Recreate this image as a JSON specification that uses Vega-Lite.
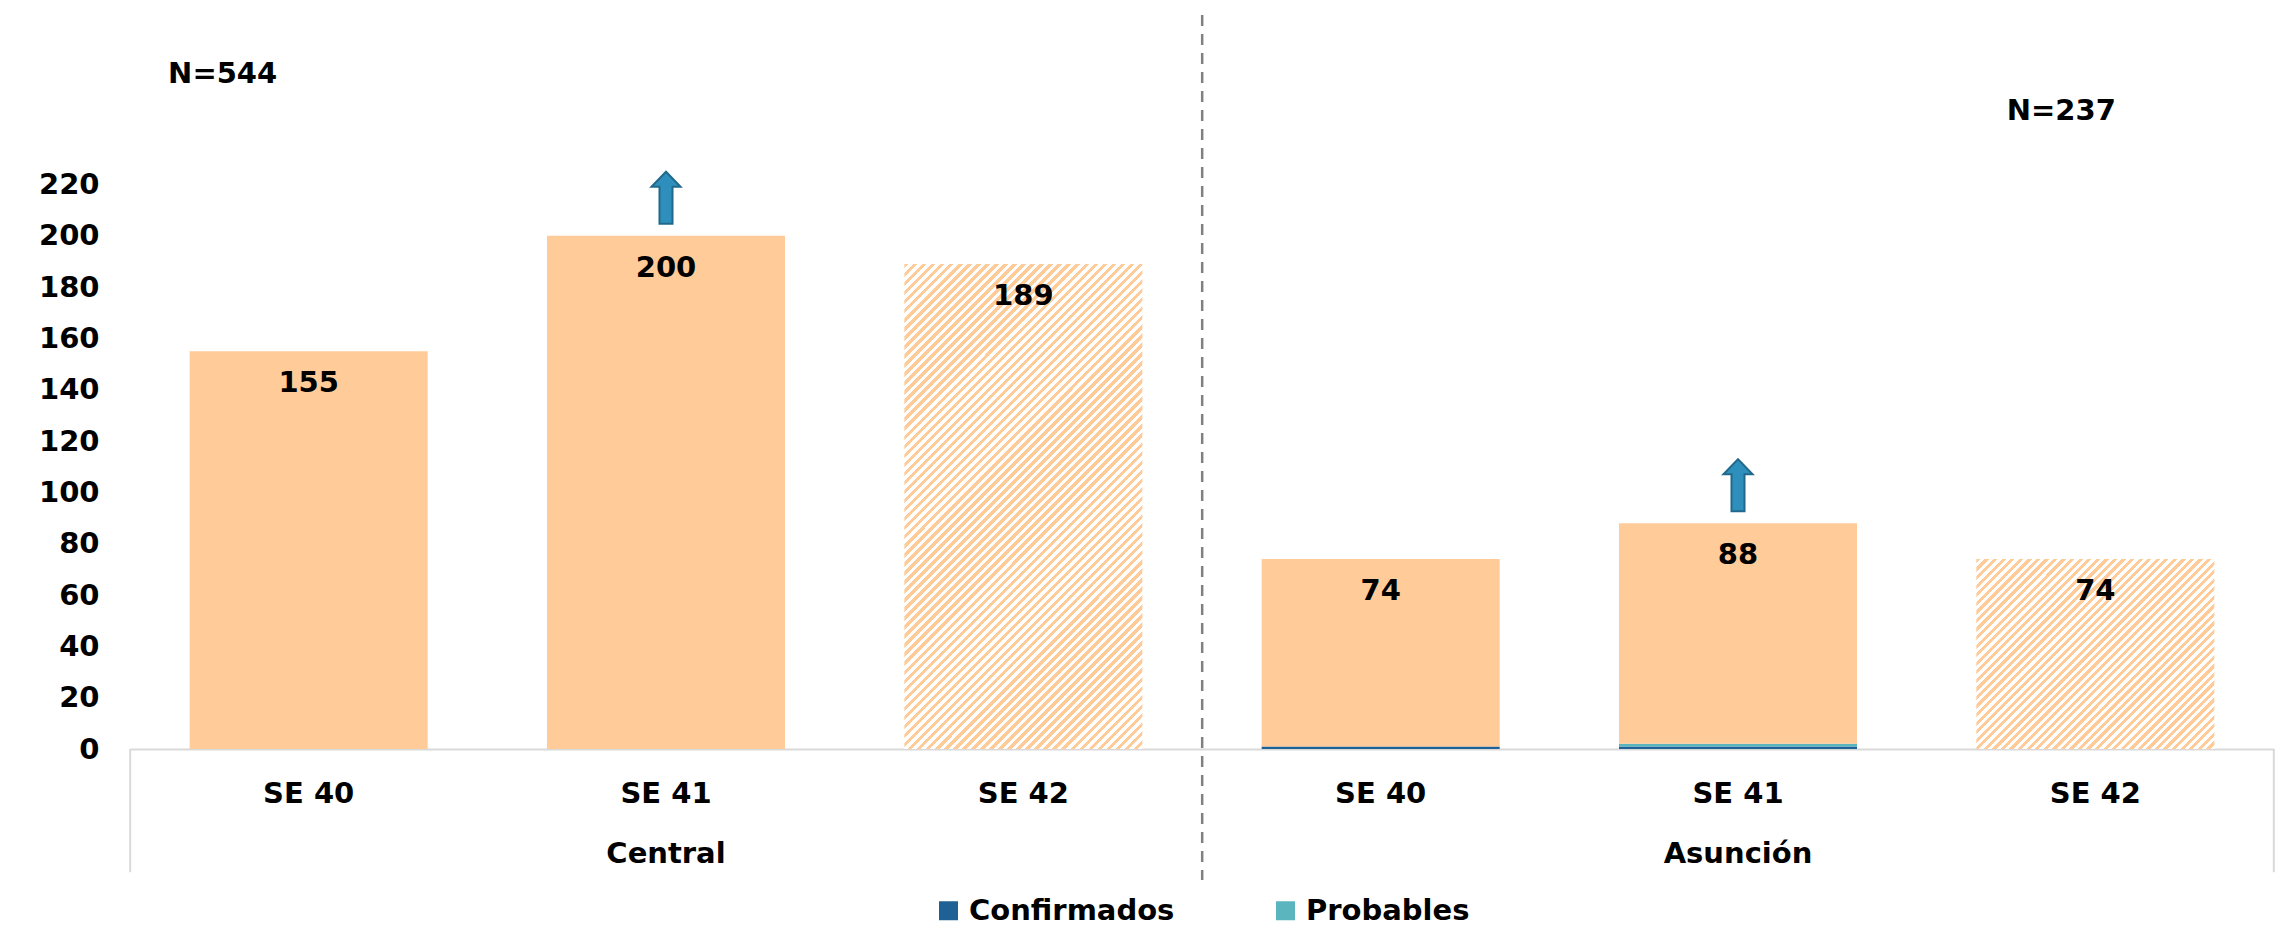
{
  "$schema": "https://vega.github.io/schema/vega-lite/v6.json",
  "autosize": "none",
  "padding": {"left": 130, "top": 15, "right": 16, "bottom": 195},
  "width": 2144,
  "height": 734,
  "background": "white",
  "config": {
    "view": {"stroke": null},
    "font": "DejaVu Sans",
    "text": {"font": "DejaVu Sans", "fontWeight": "bold", "fontSize": 29, "color": "#000000"}
  },
  "datasets": {
    "barras": [
      {"cat": "Central|SE 40", "serie": "Resto", "valor": 155},
      {"cat": "Central|SE 41", "serie": "Resto", "valor": 200},
      {"cat": "Central|SE 42", "serie": "Resto", "valor": 189},
      {"cat": "Asunción|SE 40", "serie": "Confirmados", "valor": 1},
      {"cat": "Asunción|SE 40", "serie": "Resto", "valor": 73},
      {"cat": "Asunción|SE 41", "serie": "Confirmados", "valor": 1},
      {"cat": "Asunción|SE 41", "serie": "Probables", "valor": 1},
      {"cat": "Asunción|SE 41", "serie": "Resto", "valor": 86},
      {"cat": "Asunción|SE 42", "serie": "Resto", "valor": 74}
    ],
    "totales": [
      {"cat": "Central|SE 40", "total": 155, "tendencia": "igual"},
      {"cat": "Central|SE 41", "total": 200, "tendencia": "sube"},
      {"cat": "Central|SE 42", "total": 189, "tendencia": "proyeccion"},
      {"cat": "Asunción|SE 40", "total": 74, "tendencia": "igual"},
      {"cat": "Asunción|SE 41", "total": 88, "tendencia": "sube"},
      {"cat": "Asunción|SE 42", "total": 74, "tendencia": "proyeccion"}
    ],
    "anotaciones": [
      {"region": "Central", "texto": "N=544"},
      {"region": "Asunción", "texto": "N=237"}
    ]
  },
  "layer": [
    {
      "data": {"name": "barras"},
      "transform": [{"filter": "indexof(datum.cat, 'SE 42') < 0"}],
      "mark": {"type": "bar"},
      "encoding": {
        "x": {
          "field": "cat", "type": "nominal",
          "scale": {
            "domain": ["Central|SE 40", "Central|SE 41", "Central|SE 42", "Asunción|SE 40", "Asunción|SE 41", "Asunción|SE 42"],
            "paddingInner": 0.334, "paddingOuter": 0.167
          },
          "axis": {
            "title": null, "ticks": false, "tickSize": 0, "domain": true, "domainColor": "#d9d9d9", "domainWidth": 2,
            "labelAngle": 0, "labelFont": "DejaVu Sans", "labelFontWeight": "bold", "labelFontSize": 29, "labelColor": "#000000",
            "labelPadding": 30, "labelBaseline": "top", "labelLineHeight": 60, "labelOverlap": false, "labelBound": false,
            "labelExpr": "indexof(datum.label, 'SE 41') >= 0 ? [split(datum.label, '|')[1], split(datum.label, '|')[0]] : split(datum.label, '|')[1]"
          }
        },
        "y": {
          "field": "valor", "type": "quantitative",
          "scale": {"domain": [0, 286], "nice": false, "zero": true},
          "axis": {
            "title": null, "values": [0, 20, 40, 60, 80, 100, 120, 140, 160, 180, 200, 220],
            "ticks": false, "tickSize": 0, "domain": false, "grid": false,
            "labelFont": "DejaVu Sans", "labelFontWeight": "bold", "labelFontSize": 29, "labelColor": "#000000", "labelPadding": 31
          }
        },
        "color": {
          "field": "serie", "type": "nominal",
          "scale": {"domain": ["Confirmados", "Probables", "Resto"], "range": ["#1F6095", "#5BB5BF", "#FFCB99"]},
          "legend": {
            "title": null, "values": ["Confirmados", "Probables"], "orient": "none", "legendX": 804, "legendY": 881,
            "direction": "horizontal", "symbolType": "square", "symbolSize": 361, "symbolStrokeWidth": 0,
            "labelFont": "DejaVu Sans", "labelFontWeight": "bold", "labelFontSize": 29, "labelColor": "#000000",
            "labelOffset": 6, "labelLimit": 0, "columnPadding": 96, "padding": 0
          }
        },
        "order": {"field": "serie", "type": "nominal", "sort": "ascending"}
      }
    },
    {
      "data": {"name": "barras"},
      "transform": [{"filter": "datum.cat == 'Central|SE 42'"}],
      "mark": {
        "type": "bar",
        "fill": {
          "gradient": "linear", "x1": 0, "y1": 0, "x2": 0.5896, "y2": 1.2014,
          "stops": [
            {"offset":0,"color":"#fc9"},
            {"offset":0.00625,"color":"#fc9"},{"offset":0.00625,"color":"#fff"},{"offset":0.0125,"color":"#fff"},{"offset":0.0125,"color":"#fc9"},
            {"offset":0.01875,"color":"#fc9"},{"offset":0.01875,"color":"#fff"},{"offset":0.025,"color":"#fff"},{"offset":0.025,"color":"#fc9"},
            {"offset":0.03125,"color":"#fc9"},{"offset":0.03125,"color":"#fff"},{"offset":0.0375,"color":"#fff"},{"offset":0.0375,"color":"#fc9"},
            {"offset":0.04375,"color":"#fc9"},{"offset":0.04375,"color":"#fff"},{"offset":0.05,"color":"#fff"},{"offset":0.05,"color":"#fc9"},
            {"offset":0.05625,"color":"#fc9"},{"offset":0.05625,"color":"#fff"},{"offset":0.0625,"color":"#fff"},{"offset":0.0625,"color":"#fc9"},
            {"offset":0.06875,"color":"#fc9"},{"offset":0.06875,"color":"#fff"},{"offset":0.075,"color":"#fff"},{"offset":0.075,"color":"#fc9"},
            {"offset":0.08125,"color":"#fc9"},{"offset":0.08125,"color":"#fff"},{"offset":0.0875,"color":"#fff"},{"offset":0.0875,"color":"#fc9"},
            {"offset":0.09375,"color":"#fc9"},{"offset":0.09375,"color":"#fff"},{"offset":0.1,"color":"#fff"},{"offset":0.1,"color":"#fc9"},
            {"offset":0.10625,"color":"#fc9"},{"offset":0.10625,"color":"#fff"},{"offset":0.1125,"color":"#fff"},{"offset":0.1125,"color":"#fc9"},
            {"offset":0.11875,"color":"#fc9"},{"offset":0.11875,"color":"#fff"},{"offset":0.125,"color":"#fff"},{"offset":0.125,"color":"#fc9"},
            {"offset":0.13125,"color":"#fc9"},{"offset":0.13125,"color":"#fff"},{"offset":0.1375,"color":"#fff"},{"offset":0.1375,"color":"#fc9"},
            {"offset":0.14375,"color":"#fc9"},{"offset":0.14375,"color":"#fff"},{"offset":0.15,"color":"#fff"},{"offset":0.15,"color":"#fc9"},
            {"offset":0.15625,"color":"#fc9"},{"offset":0.15625,"color":"#fff"},{"offset":0.1625,"color":"#fff"},{"offset":0.1625,"color":"#fc9"},
            {"offset":0.16875,"color":"#fc9"},{"offset":0.16875,"color":"#fff"},{"offset":0.175,"color":"#fff"},{"offset":0.175,"color":"#fc9"},
            {"offset":0.18125,"color":"#fc9"},{"offset":0.18125,"color":"#fff"},{"offset":0.1875,"color":"#fff"},{"offset":0.1875,"color":"#fc9"},
            {"offset":0.19375,"color":"#fc9"},{"offset":0.19375,"color":"#fff"},{"offset":0.2,"color":"#fff"},{"offset":0.2,"color":"#fc9"},
            {"offset":0.20625,"color":"#fc9"},{"offset":0.20625,"color":"#fff"},{"offset":0.2125,"color":"#fff"},{"offset":0.2125,"color":"#fc9"},
            {"offset":0.21875,"color":"#fc9"},{"offset":0.21875,"color":"#fff"},{"offset":0.225,"color":"#fff"},{"offset":0.225,"color":"#fc9"},
            {"offset":0.23125,"color":"#fc9"},{"offset":0.23125,"color":"#fff"},{"offset":0.2375,"color":"#fff"},{"offset":0.2375,"color":"#fc9"},
            {"offset":0.24375,"color":"#fc9"},{"offset":0.24375,"color":"#fff"},{"offset":0.25,"color":"#fff"},{"offset":0.25,"color":"#fc9"},
            {"offset":0.25625,"color":"#fc9"},{"offset":0.25625,"color":"#fff"},{"offset":0.2625,"color":"#fff"},{"offset":0.2625,"color":"#fc9"},
            {"offset":0.26875,"color":"#fc9"},{"offset":0.26875,"color":"#fff"},{"offset":0.275,"color":"#fff"},{"offset":0.275,"color":"#fc9"},
            {"offset":0.28125,"color":"#fc9"},{"offset":0.28125,"color":"#fff"},{"offset":0.2875,"color":"#fff"},{"offset":0.2875,"color":"#fc9"},
            {"offset":0.29375,"color":"#fc9"},{"offset":0.29375,"color":"#fff"},{"offset":0.3,"color":"#fff"},{"offset":0.3,"color":"#fc9"},
            {"offset":0.30625,"color":"#fc9"},{"offset":0.30625,"color":"#fff"},{"offset":0.3125,"color":"#fff"},{"offset":0.3125,"color":"#fc9"},
            {"offset":0.31875,"color":"#fc9"},{"offset":0.31875,"color":"#fff"},{"offset":0.325,"color":"#fff"},{"offset":0.325,"color":"#fc9"},
            {"offset":0.33125,"color":"#fc9"},{"offset":0.33125,"color":"#fff"},{"offset":0.3375,"color":"#fff"},{"offset":0.3375,"color":"#fc9"},
            {"offset":0.34375,"color":"#fc9"},{"offset":0.34375,"color":"#fff"},{"offset":0.35,"color":"#fff"},{"offset":0.35,"color":"#fc9"},
            {"offset":0.35625,"color":"#fc9"},{"offset":0.35625,"color":"#fff"},{"offset":0.3625,"color":"#fff"},{"offset":0.3625,"color":"#fc9"},
            {"offset":0.36875,"color":"#fc9"},{"offset":0.36875,"color":"#fff"},{"offset":0.375,"color":"#fff"},{"offset":0.375,"color":"#fc9"},
            {"offset":0.38125,"color":"#fc9"},{"offset":0.38125,"color":"#fff"},{"offset":0.3875,"color":"#fff"},{"offset":0.3875,"color":"#fc9"},
            {"offset":0.39375,"color":"#fc9"},{"offset":0.39375,"color":"#fff"},{"offset":0.4,"color":"#fff"},{"offset":0.4,"color":"#fc9"},
            {"offset":0.40625,"color":"#fc9"},{"offset":0.40625,"color":"#fff"},{"offset":0.4125,"color":"#fff"},{"offset":0.4125,"color":"#fc9"},
            {"offset":0.41875,"color":"#fc9"},{"offset":0.41875,"color":"#fff"},{"offset":0.425,"color":"#fff"},{"offset":0.425,"color":"#fc9"},
            {"offset":0.43125,"color":"#fc9"},{"offset":0.43125,"color":"#fff"},{"offset":0.4375,"color":"#fff"},{"offset":0.4375,"color":"#fc9"},
            {"offset":0.44375,"color":"#fc9"},{"offset":0.44375,"color":"#fff"},{"offset":0.45,"color":"#fff"},{"offset":0.45,"color":"#fc9"},
            {"offset":0.45625,"color":"#fc9"},{"offset":0.45625,"color":"#fff"},{"offset":0.4625,"color":"#fff"},{"offset":0.4625,"color":"#fc9"},
            {"offset":0.46875,"color":"#fc9"},{"offset":0.46875,"color":"#fff"},{"offset":0.475,"color":"#fff"},{"offset":0.475,"color":"#fc9"},
            {"offset":0.48125,"color":"#fc9"},{"offset":0.48125,"color":"#fff"},{"offset":0.4875,"color":"#fff"},{"offset":0.4875,"color":"#fc9"},
            {"offset":0.49375,"color":"#fc9"},{"offset":0.49375,"color":"#fff"},{"offset":0.5,"color":"#fff"},{"offset":0.5,"color":"#fc9"},
            {"offset":0.50625,"color":"#fc9"},{"offset":0.50625,"color":"#fff"},{"offset":0.5125,"color":"#fff"},{"offset":0.5125,"color":"#fc9"},
            {"offset":0.51875,"color":"#fc9"},{"offset":0.51875,"color":"#fff"},{"offset":0.525,"color":"#fff"},{"offset":0.525,"color":"#fc9"},
            {"offset":0.53125,"color":"#fc9"},{"offset":0.53125,"color":"#fff"},{"offset":0.5375,"color":"#fff"},{"offset":0.5375,"color":"#fc9"},
            {"offset":0.54375,"color":"#fc9"},{"offset":0.54375,"color":"#fff"},{"offset":0.55,"color":"#fff"},{"offset":0.55,"color":"#fc9"},
            {"offset":0.55625,"color":"#fc9"},{"offset":0.55625,"color":"#fff"},{"offset":0.5625,"color":"#fff"},{"offset":0.5625,"color":"#fc9"},
            {"offset":0.56875,"color":"#fc9"},{"offset":0.56875,"color":"#fff"},{"offset":0.575,"color":"#fff"},{"offset":0.575,"color":"#fc9"},
            {"offset":0.58125,"color":"#fc9"},{"offset":0.58125,"color":"#fff"},{"offset":0.5875,"color":"#fff"},{"offset":0.5875,"color":"#fc9"},
            {"offset":0.59375,"color":"#fc9"},{"offset":0.59375,"color":"#fff"},{"offset":0.6,"color":"#fff"},{"offset":0.6,"color":"#fc9"},
            {"offset":0.60625,"color":"#fc9"},{"offset":0.60625,"color":"#fff"},{"offset":0.6125,"color":"#fff"},{"offset":0.6125,"color":"#fc9"},
            {"offset":0.61875,"color":"#fc9"},{"offset":0.61875,"color":"#fff"},{"offset":0.625,"color":"#fff"},{"offset":0.625,"color":"#fc9"},
            {"offset":0.63125,"color":"#fc9"},{"offset":0.63125,"color":"#fff"},{"offset":0.6375,"color":"#fff"},{"offset":0.6375,"color":"#fc9"},
            {"offset":0.64375,"color":"#fc9"},{"offset":0.64375,"color":"#fff"},{"offset":0.65,"color":"#fff"},{"offset":0.65,"color":"#fc9"},
            {"offset":0.65625,"color":"#fc9"},{"offset":0.65625,"color":"#fff"},{"offset":0.6625,"color":"#fff"},{"offset":0.6625,"color":"#fc9"},
            {"offset":0.66875,"color":"#fc9"},{"offset":0.66875,"color":"#fff"},{"offset":0.675,"color":"#fff"},{"offset":0.675,"color":"#fc9"},
            {"offset":0.68125,"color":"#fc9"},{"offset":0.68125,"color":"#fff"},{"offset":0.6875,"color":"#fff"},{"offset":0.6875,"color":"#fc9"},
            {"offset":0.69375,"color":"#fc9"},{"offset":0.69375,"color":"#fff"},{"offset":0.7,"color":"#fff"},{"offset":0.7,"color":"#fc9"},
            {"offset":0.70625,"color":"#fc9"},{"offset":0.70625,"color":"#fff"},{"offset":0.7125,"color":"#fff"},{"offset":0.7125,"color":"#fc9"},
            {"offset":0.71875,"color":"#fc9"},{"offset":0.71875,"color":"#fff"},{"offset":0.725,"color":"#fff"},{"offset":0.725,"color":"#fc9"},
            {"offset":0.73125,"color":"#fc9"},{"offset":0.73125,"color":"#fff"},{"offset":0.7375,"color":"#fff"},{"offset":0.7375,"color":"#fc9"},
            {"offset":0.74375,"color":"#fc9"},{"offset":0.74375,"color":"#fff"},{"offset":0.75,"color":"#fff"},{"offset":0.75,"color":"#fc9"},
            {"offset":0.75625,"color":"#fc9"},{"offset":0.75625,"color":"#fff"},{"offset":0.7625,"color":"#fff"},{"offset":0.7625,"color":"#fc9"},
            {"offset":0.76875,"color":"#fc9"},{"offset":0.76875,"color":"#fff"},{"offset":0.775,"color":"#fff"},{"offset":0.775,"color":"#fc9"},
            {"offset":0.78125,"color":"#fc9"},{"offset":0.78125,"color":"#fff"},{"offset":0.7875,"color":"#fff"},{"offset":0.7875,"color":"#fc9"},
            {"offset":0.79375,"color":"#fc9"},{"offset":0.79375,"color":"#fff"},{"offset":0.8,"color":"#fff"},{"offset":0.8,"color":"#fc9"},
            {"offset":0.80625,"color":"#fc9"},{"offset":0.80625,"color":"#fff"},{"offset":0.8125,"color":"#fff"},{"offset":0.8125,"color":"#fc9"},
            {"offset":0.81875,"color":"#fc9"},{"offset":0.81875,"color":"#fff"},{"offset":0.825,"color":"#fff"},{"offset":0.825,"color":"#fc9"},
            {"offset":0.83125,"color":"#fc9"},{"offset":0.83125,"color":"#fff"},{"offset":0.8375,"color":"#fff"},{"offset":0.8375,"color":"#fc9"},
            {"offset":0.84375,"color":"#fc9"},{"offset":0.84375,"color":"#fff"},{"offset":0.85,"color":"#fff"},{"offset":0.85,"color":"#fc9"},
            {"offset":0.85625,"color":"#fc9"},{"offset":0.85625,"color":"#fff"},{"offset":0.8625,"color":"#fff"},{"offset":0.8625,"color":"#fc9"},
            {"offset":0.86875,"color":"#fc9"},{"offset":0.86875,"color":"#fff"},{"offset":0.875,"color":"#fff"},{"offset":0.875,"color":"#fc9"},
            {"offset":0.88125,"color":"#fc9"},{"offset":0.88125,"color":"#fff"},{"offset":0.8875,"color":"#fff"},{"offset":0.8875,"color":"#fc9"},
            {"offset":0.89375,"color":"#fc9"},{"offset":0.89375,"color":"#fff"},{"offset":0.9,"color":"#fff"},{"offset":0.9,"color":"#fc9"},
            {"offset":0.90625,"color":"#fc9"},{"offset":0.90625,"color":"#fff"},{"offset":0.9125,"color":"#fff"},{"offset":0.9125,"color":"#fc9"},
            {"offset":0.91875,"color":"#fc9"},{"offset":0.91875,"color":"#fff"},{"offset":0.925,"color":"#fff"},{"offset":0.925,"color":"#fc9"},
            {"offset":0.93125,"color":"#fc9"},{"offset":0.93125,"color":"#fff"},{"offset":0.9375,"color":"#fff"},{"offset":0.9375,"color":"#fc9"},
            {"offset":0.94375,"color":"#fc9"},{"offset":0.94375,"color":"#fff"},{"offset":0.95,"color":"#fff"},{"offset":0.95,"color":"#fc9"},
            {"offset":0.95625,"color":"#fc9"},{"offset":0.95625,"color":"#fff"},{"offset":0.9625,"color":"#fff"},{"offset":0.9625,"color":"#fc9"},
            {"offset":0.96875,"color":"#fc9"},{"offset":0.96875,"color":"#fff"},{"offset":0.975,"color":"#fff"},{"offset":0.975,"color":"#fc9"},
            {"offset":0.98125,"color":"#fc9"},{"offset":0.98125,"color":"#fff"},{"offset":0.9875,"color":"#fff"},{"offset":0.9875,"color":"#fc9"},
            {"offset":0.99375,"color":"#fc9"},{"offset":0.99375,"color":"#fff"},{"offset":1,"color":"#fff"}
          ]
        }
      },
      "encoding": {
        "x": {"field": "cat", "type": "nominal"},
        "y": {"field": "valor", "type": "quantitative"}
      }
    },
    {
      "data": {"name": "barras"},
      "transform": [{"filter": "datum.cat == 'Asunción|SE 42'"}],
      "mark": {
        "type": "bar",
        "fill": {
          "gradient": "linear", "x1": 0, "y1": 0, "x2": 1.0985, "y2": 0.8765,
          "stops": [
            {"offset":0,"color":"#fc9"},
            {"offset":0.01,"color":"#fc9"},{"offset":0.01,"color":"#fff"},{"offset":0.02,"color":"#fff"},{"offset":0.02,"color":"#fc9"},
            {"offset":0.03,"color":"#fc9"},{"offset":0.03,"color":"#fff"},{"offset":0.04,"color":"#fff"},{"offset":0.04,"color":"#fc9"},
            {"offset":0.05,"color":"#fc9"},{"offset":0.05,"color":"#fff"},{"offset":0.06,"color":"#fff"},{"offset":0.06,"color":"#fc9"},
            {"offset":0.07,"color":"#fc9"},{"offset":0.07,"color":"#fff"},{"offset":0.08,"color":"#fff"},{"offset":0.08,"color":"#fc9"},
            {"offset":0.09,"color":"#fc9"},{"offset":0.09,"color":"#fff"},{"offset":0.1,"color":"#fff"},{"offset":0.1,"color":"#fc9"},
            {"offset":0.11,"color":"#fc9"},{"offset":0.11,"color":"#fff"},{"offset":0.12,"color":"#fff"},{"offset":0.12,"color":"#fc9"},
            {"offset":0.13,"color":"#fc9"},{"offset":0.13,"color":"#fff"},{"offset":0.14,"color":"#fff"},{"offset":0.14,"color":"#fc9"},
            {"offset":0.15,"color":"#fc9"},{"offset":0.15,"color":"#fff"},{"offset":0.16,"color":"#fff"},{"offset":0.16,"color":"#fc9"},
            {"offset":0.17,"color":"#fc9"},{"offset":0.17,"color":"#fff"},{"offset":0.18,"color":"#fff"},{"offset":0.18,"color":"#fc9"},
            {"offset":0.19,"color":"#fc9"},{"offset":0.19,"color":"#fff"},{"offset":0.2,"color":"#fff"},{"offset":0.2,"color":"#fc9"},
            {"offset":0.21,"color":"#fc9"},{"offset":0.21,"color":"#fff"},{"offset":0.22,"color":"#fff"},{"offset":0.22,"color":"#fc9"},
            {"offset":0.23,"color":"#fc9"},{"offset":0.23,"color":"#fff"},{"offset":0.24,"color":"#fff"},{"offset":0.24,"color":"#fc9"},
            {"offset":0.25,"color":"#fc9"},{"offset":0.25,"color":"#fff"},{"offset":0.26,"color":"#fff"},{"offset":0.26,"color":"#fc9"},
            {"offset":0.27,"color":"#fc9"},{"offset":0.27,"color":"#fff"},{"offset":0.28,"color":"#fff"},{"offset":0.28,"color":"#fc9"},
            {"offset":0.29,"color":"#fc9"},{"offset":0.29,"color":"#fff"},{"offset":0.3,"color":"#fff"},{"offset":0.3,"color":"#fc9"},
            {"offset":0.31,"color":"#fc9"},{"offset":0.31,"color":"#fff"},{"offset":0.32,"color":"#fff"},{"offset":0.32,"color":"#fc9"},
            {"offset":0.33,"color":"#fc9"},{"offset":0.33,"color":"#fff"},{"offset":0.34,"color":"#fff"},{"offset":0.34,"color":"#fc9"},
            {"offset":0.35,"color":"#fc9"},{"offset":0.35,"color":"#fff"},{"offset":0.36,"color":"#fff"},{"offset":0.36,"color":"#fc9"},
            {"offset":0.37,"color":"#fc9"},{"offset":0.37,"color":"#fff"},{"offset":0.38,"color":"#fff"},{"offset":0.38,"color":"#fc9"},
            {"offset":0.39,"color":"#fc9"},{"offset":0.39,"color":"#fff"},{"offset":0.4,"color":"#fff"},{"offset":0.4,"color":"#fc9"},
            {"offset":0.41,"color":"#fc9"},{"offset":0.41,"color":"#fff"},{"offset":0.42,"color":"#fff"},{"offset":0.42,"color":"#fc9"},
            {"offset":0.43,"color":"#fc9"},{"offset":0.43,"color":"#fff"},{"offset":0.44,"color":"#fff"},{"offset":0.44,"color":"#fc9"},
            {"offset":0.45,"color":"#fc9"},{"offset":0.45,"color":"#fff"},{"offset":0.46,"color":"#fff"},{"offset":0.46,"color":"#fc9"},
            {"offset":0.47,"color":"#fc9"},{"offset":0.47,"color":"#fff"},{"offset":0.48,"color":"#fff"},{"offset":0.48,"color":"#fc9"},
            {"offset":0.49,"color":"#fc9"},{"offset":0.49,"color":"#fff"},{"offset":0.5,"color":"#fff"},{"offset":0.5,"color":"#fc9"},
            {"offset":0.51,"color":"#fc9"},{"offset":0.51,"color":"#fff"},{"offset":0.52,"color":"#fff"},{"offset":0.52,"color":"#fc9"},
            {"offset":0.53,"color":"#fc9"},{"offset":0.53,"color":"#fff"},{"offset":0.54,"color":"#fff"},{"offset":0.54,"color":"#fc9"},
            {"offset":0.55,"color":"#fc9"},{"offset":0.55,"color":"#fff"},{"offset":0.56,"color":"#fff"},{"offset":0.56,"color":"#fc9"},
            {"offset":0.57,"color":"#fc9"},{"offset":0.57,"color":"#fff"},{"offset":0.58,"color":"#fff"},{"offset":0.58,"color":"#fc9"},
            {"offset":0.59,"color":"#fc9"},{"offset":0.59,"color":"#fff"},{"offset":0.6,"color":"#fff"},{"offset":0.6,"color":"#fc9"},
            {"offset":0.61,"color":"#fc9"},{"offset":0.61,"color":"#fff"},{"offset":0.62,"color":"#fff"},{"offset":0.62,"color":"#fc9"},
            {"offset":0.63,"color":"#fc9"},{"offset":0.63,"color":"#fff"},{"offset":0.64,"color":"#fff"},{"offset":0.64,"color":"#fc9"},
            {"offset":0.65,"color":"#fc9"},{"offset":0.65,"color":"#fff"},{"offset":0.66,"color":"#fff"},{"offset":0.66,"color":"#fc9"},
            {"offset":0.67,"color":"#fc9"},{"offset":0.67,"color":"#fff"},{"offset":0.68,"color":"#fff"},{"offset":0.68,"color":"#fc9"},
            {"offset":0.69,"color":"#fc9"},{"offset":0.69,"color":"#fff"},{"offset":0.7,"color":"#fff"},{"offset":0.7,"color":"#fc9"},
            {"offset":0.71,"color":"#fc9"},{"offset":0.71,"color":"#fff"},{"offset":0.72,"color":"#fff"},{"offset":0.72,"color":"#fc9"},
            {"offset":0.73,"color":"#fc9"},{"offset":0.73,"color":"#fff"},{"offset":0.74,"color":"#fff"},{"offset":0.74,"color":"#fc9"},
            {"offset":0.75,"color":"#fc9"},{"offset":0.75,"color":"#fff"},{"offset":0.76,"color":"#fff"},{"offset":0.76,"color":"#fc9"},
            {"offset":0.77,"color":"#fc9"},{"offset":0.77,"color":"#fff"},{"offset":0.78,"color":"#fff"},{"offset":0.78,"color":"#fc9"},
            {"offset":0.79,"color":"#fc9"},{"offset":0.79,"color":"#fff"},{"offset":0.8,"color":"#fff"},{"offset":0.8,"color":"#fc9"},
            {"offset":0.81,"color":"#fc9"},{"offset":0.81,"color":"#fff"},{"offset":0.82,"color":"#fff"},{"offset":0.82,"color":"#fc9"},
            {"offset":0.83,"color":"#fc9"},{"offset":0.83,"color":"#fff"},{"offset":0.84,"color":"#fff"},{"offset":0.84,"color":"#fc9"},
            {"offset":0.85,"color":"#fc9"},{"offset":0.85,"color":"#fff"},{"offset":0.86,"color":"#fff"},{"offset":0.86,"color":"#fc9"},
            {"offset":0.87,"color":"#fc9"},{"offset":0.87,"color":"#fff"},{"offset":0.88,"color":"#fff"},{"offset":0.88,"color":"#fc9"},
            {"offset":0.89,"color":"#fc9"},{"offset":0.89,"color":"#fff"},{"offset":0.9,"color":"#fff"},{"offset":0.9,"color":"#fc9"},
            {"offset":0.91,"color":"#fc9"},{"offset":0.91,"color":"#fff"},{"offset":0.92,"color":"#fff"},{"offset":0.92,"color":"#fc9"},
            {"offset":0.93,"color":"#fc9"},{"offset":0.93,"color":"#fff"},{"offset":0.94,"color":"#fff"},{"offset":0.94,"color":"#fc9"},
            {"offset":0.95,"color":"#fc9"},{"offset":0.95,"color":"#fff"},{"offset":0.96,"color":"#fff"},{"offset":0.96,"color":"#fc9"},
            {"offset":0.97,"color":"#fc9"},{"offset":0.97,"color":"#fff"},{"offset":0.98,"color":"#fff"},{"offset":0.98,"color":"#fc9"},
            {"offset":0.99,"color":"#fc9"},{"offset":0.99,"color":"#fff"},{"offset":1,"color":"#fff"}
          ]
        }
      },
      "encoding": {
        "x": {"field": "cat", "type": "nominal"},
        "y": {"field": "valor", "type": "quantitative"}
      }
    },
    {
      "data": {"name": "totales"},
      "mark": {"type": "text", "baseline": "middle", "align": "center", "dy": 32},
      "encoding": {
        "x": {"field": "cat", "type": "nominal"},
        "y": {"field": "total", "type": "quantitative"},
        "text": {"field": "total", "type": "quantitative"}
      }
    },
    {
      "data": {"name": "totales"},
      "transform": [{"filter": "datum.tendencia == 'sube'"}],
      "mark": {
        "type": "point",
        "shape": "M0,-1L0.56,-0.42L0.25,-0.42L0.25,1L-0.25,1L-0.25,-0.42L-0.56,-0.42Z",
        "size": 2704, "filled": true, "fill": "#2E8FBC", "stroke": "#21698C", "strokeWidth": 2, "opacity": 1, "yOffset": -38
      },
      "encoding": {
        "x": {"field": "cat", "type": "nominal"},
        "y": {"field": "total", "type": "quantitative"}
      }
    },
    {
      "data": {"name": "anotaciones"},
      "transform": [{"filter": "datum.region == 'Central'"}],
      "mark": {"type": "text", "align": "center", "baseline": "middle", "dx": -86},
      "encoding": {
        "x": {"datum": "Central|SE 40"},
        "y": {"datum": 263},
        "text": {"field": "texto", "type": "nominal"}
      }
    },
    {
      "data": {"name": "anotaciones"},
      "transform": [{"filter": "datum.region == 'Asunción'"}],
      "mark": {"type": "text", "align": "center", "baseline": "middle", "dx": -34},
      "encoding": {
        "x": {"datum": "Asunción|SE 42"},
        "y": {"datum": 248.6},
        "text": {"field": "texto", "type": "nominal"}
      }
    },
    {
      "data": {"values": [{"linea": "separador"}]},
      "mark": {"type": "rule", "color": "#808080", "strokeWidth": 2.5, "strokeDash": [11, 8]},
      "encoding": {
        "x": {"datum": "Asunción|SE 40", "bandPosition": -0.25},
        "y": {"datum": 286},
        "y2": {"datum": -51}
      }
    },
    {
      "data": {"values": [{"linea": "borde izquierdo"}]},
      "mark": {"type": "rule", "color": "#d9d9d9", "strokeWidth": 2},
      "encoding": {
        "x": {"datum": "Central|SE 40", "bandPosition": -0.25},
        "y": {"datum": 0},
        "y2": {"datum": -48}
      }
    },
    {
      "data": {"values": [{"linea": "borde derecho"}]},
      "mark": {"type": "rule", "color": "#d9d9d9", "strokeWidth": 2},
      "encoding": {
        "x": {"datum": "Asunción|SE 42", "bandPosition": 1.25},
        "y": {"datum": 0},
        "y2": {"datum": -48}
      }
    }
  ]
}
